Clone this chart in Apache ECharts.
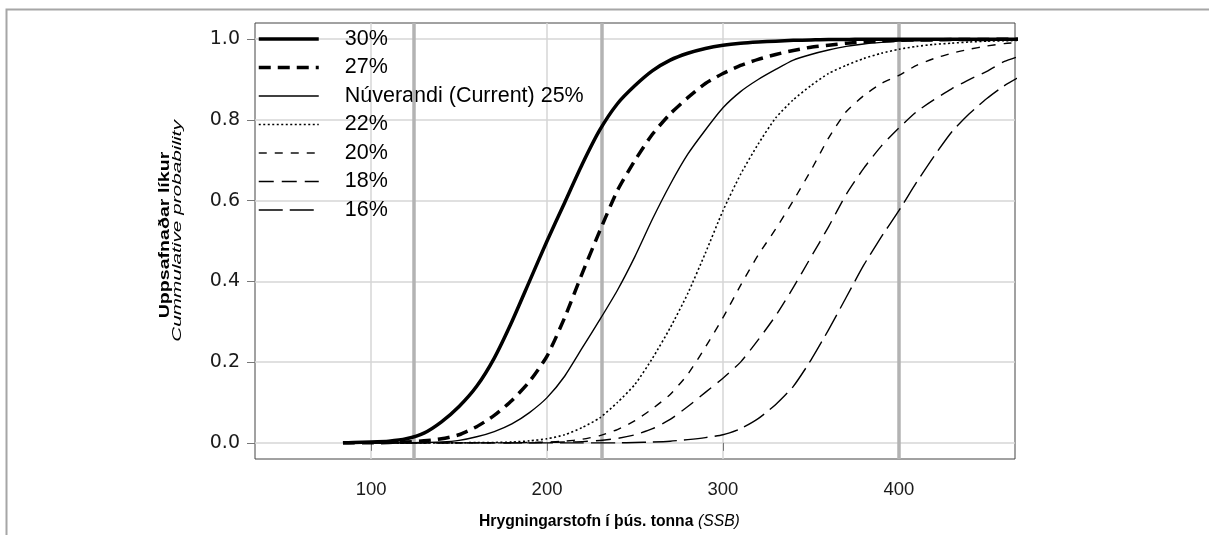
<!DOCTYPE html>
<html>
<head>
<meta charset="utf-8">
<script src="https://cdn.jsdelivr.net/npm/echarts@6/dist/echarts.min.js"></script>
<style>
html,body{margin:0;padding:0;background:#fff;}
#c{width:1209px;height:535px;}
</style>
</head>
<body>
<div id="c"></div>
<script>
// SSB in thousand tonnes (x grid shared by all curves)
const xs = [84, 90, 100, 110, 120, 130, 140, 150, 160, 170,
            180, 190, 200, 210, 220, 230, 240, 250, 260, 270,
            280, 290, 300, 310, 320, 330, 340, 350, 360, 370,
            380, 390, 400, 410, 420, 430, 440, 450, 460, 470];

const p30 = [0, 0.001, 0.002, 0.004, 0.01, 0.024, 0.052, 0.09, 0.14, 0.21,
             0.3, 0.4, 0.5, 0.595, 0.69, 0.775, 0.84, 0.885, 0.922, 0.948,
             0.965, 0.977, 0.985, 0.99, 0.993, 0.995, 0.997, 0.998, 0.999, 0.999,
             1, 1, 1, 1, 1, 1, 1, 1, 1, 1];
const p27 = [0, 0, 0, 0.001, 0.002, 0.005, 0.01, 0.02, 0.04, 0.068,
             0.105, 0.152, 0.215, 0.31, 0.42, 0.525, 0.625, 0.7, 0.765, 0.815,
             0.855, 0.89, 0.915, 0.935, 0.95, 0.962, 0.972, 0.98, 0.985, 0.99,
             0.993, 0.995, 0.997, 0.998, 0.998, 0.999, 0.999, 0.999, 1, 1];
const p25 = [0, 0, 0, 0, 0, 0.001, 0.002, 0.006, 0.015, 0.028,
             0.047, 0.075, 0.112, 0.165, 0.235, 0.305, 0.378, 0.462, 0.555, 0.64,
             0.715, 0.775, 0.83, 0.87, 0.9, 0.925, 0.948, 0.962, 0.973, 0.982,
             0.988, 0.992, 0.995, 0.996, 0.997, 0.998, 0.999, 0.999, 0.999, 1];
const p22 = [0, 0, 0, 0, 0, 0, 0, 0, 0.001, 0.001,
             0.002, 0.005, 0.01, 0.02, 0.038, 0.062, 0.1, 0.145, 0.21, 0.285,
             0.37, 0.47, 0.575, 0.665, 0.74, 0.805, 0.85, 0.885, 0.915, 0.935,
             0.952, 0.965, 0.975, 0.982, 0.987, 0.99, 0.993, 0.995, 0.996, 0.997];
const p20 = [0, 0, 0, 0, 0, 0, 0, 0, 0, 0,
             0, 0.001, 0.002, 0.004, 0.009, 0.018, 0.033, 0.055, 0.085, 0.12,
             0.17, 0.237, 0.31, 0.39, 0.465, 0.53, 0.6, 0.675, 0.755, 0.82,
             0.86, 0.89, 0.91, 0.935, 0.952, 0.965, 0.975, 0.983, 0.989, 0.992];
const p18 = [0, 0, 0, 0, 0, 0, 0, 0, 0, 0,
             0, 0, 0.001, 0.002, 0.003, 0.006, 0.011, 0.02, 0.035, 0.058,
             0.09, 0.125, 0.16, 0.2, 0.255, 0.315, 0.385, 0.46, 0.535, 0.615,
             0.68, 0.735, 0.78, 0.82, 0.85, 0.877, 0.9, 0.92, 0.945, 0.96];
const p16 = [0, 0, 0, 0, 0, 0, 0, 0, 0, 0,
             0, 0, 0, 0, 0, 0, 0, 0.001, 0.002, 0.004,
             0.008, 0.013, 0.02, 0.035, 0.06, 0.095, 0.14, 0.205, 0.28, 0.36,
             0.44, 0.51, 0.575, 0.645, 0.71, 0.77, 0.815, 0.853, 0.885, 0.91];

const seriesNames = ['30%', '27%', 'Núverandi (Current) 25%', '22%', '20%', '18%', '16%'];
const refLines = [124, 231, 400];
const xTicks = [100, 200, 300, 400];
const yTicks = [0, 0.2, 0.4, 0.6, 0.8, 1.0];

const FONT = 'Liberation Sans, Arial, sans-serif';
const curves = [p30, p27, p25, p22, p20, p18, p16];
const styles = [
  {width: 3.5, type: 'solid'},
  {width: 3.5, type: [12, 7]},
  {width: 1.4, type: 'solid'},
  {width: 1.6, type: [2, 2.5]},
  {width: 1.4, type: [8, 8]},
  {width: 1.4, type: [15, 8]},
  {width: 1.4, type: [24, 7]}
];

const series = curves.map((p, k) => ({
  name: seriesNames[k],
  type: 'line',
  data: xs.map((x, i) => [x, p[i]]),
  symbol: 'none',
  smooth: 0.2,
  z: 5,
  lineStyle: {color: '#000', width: styles[k].width, type: styles[k].type, cap: 'butt', join: 'round'},
  itemStyle: {color: '#000'}
}));

series.push({
  name: 'ref',
  type: 'line',
  data: [],
  z: 1,
  markLine: {
    silent: true,
    symbol: ['none', 'none'],
    label: {show: false},
    lineStyle: {color: '#b3b3b3', width: 3.5, type: 'solid'},
    data: refLines.map(v => ({xAxis: v}))
  }
});

const chart = echarts.init(document.getElementById('c'), null, {renderer: 'canvas'});
chart.setOption({
  backgroundColor: '#fff',
  animation: false,
  grid: {left: 255, top: 23, width: 760, height: 436, show: true, borderColor: '#444', borderWidth: 1, backgroundColor: 'transparent'},
  legend: {
    data: seriesNames.map((n, k) => ({name: n, lineStyle: {width: styles[k].width, type: styles[k].type, color: '#000'}})),
    orient: 'vertical',
    left: 257, top: 28,
    padding: 0,
    itemWidth: 60, itemHeight: 22, itemGap: 6.5,
    selectedMode: false,
    itemStyle: {opacity: 0},
    lineStyle: {width: 'inherit'},
    textStyle: {fontFamily: FONT, fontSize: 21.5, color: '#000', padding: [0, 0, 0, 21], lineHeight: 22}
  },
  xAxis: {
    type: 'value', min: 34, max: 466,
    axisLine: {show: false},
    axisTick: {show: true, length: 8, lineStyle: {color: '#777'}, customValues: xTicks},
    axisLabel: {fontFamily: FONT, fontSize: 18.5, color: '#1a1a1a', margin: 21, customValues: xTicks},
    splitLine: {show: true, lineStyle: {color: '#d6d6d6', width: 1.5}}
  },
  yAxis: {
    type: 'value', min: -0.04, max: 1.04,
    axisLine: {show: false},
    axisTick: {show: true, length: 8, lineStyle: {color: '#777'}, customValues: yTicks},
    axisLabel: {fontFamily: 'DejaVu Sans, sans-serif', fontSize: 19, color: '#1a1a1a', margin: 15, customValues: yTicks,
                formatter: v => v.toFixed(1)},
    splitLine: {show: true, lineStyle: {color: '#d6d6d6', width: 1.5}}
  },
  graphic: [
    {type: 'polyline', silent: true, z: 0,
     shape: {points: [[6.5, 535], [6.5, 9.5], [1209, 9.5]]},
     style: {stroke: '#a6a6a6', lineWidth: 2, fill: null}},
    {type: 'text', x: 165, y: 235, rotation: Math.PI / 2, scaleX: 1.4, scaleY: 1,
     style: {text: 'Uppsafnaðar líkur', font: 'bold 14px ' + FONT, fill: '#000', align: 'center', verticalAlign: 'middle'}},
    {type: 'text', x: 177.5, y: 231, rotation: Math.PI / 2, scaleX: 1.73, scaleY: 1,
     style: {text: 'Cummulative probability', font: 'italic 12px ' + FONT, fill: '#000', align: 'center', verticalAlign: 'middle'}},
    {type: 'text', x: 479, y: 522,
     style: {text: 'Hrygningarstofn í þús. tonna', font: 'bold 15.7px ' + FONT, fill: '#000', align: 'left', verticalAlign: 'middle'}},
    {type: 'text', x: 698, y: 522,
     style: {text: '(SSB)', font: 'italic 15.7px ' + FONT, fill: '#000', align: 'left', verticalAlign: 'middle'}}
  ],
  series: series
});
</script>
</body>
</html>
